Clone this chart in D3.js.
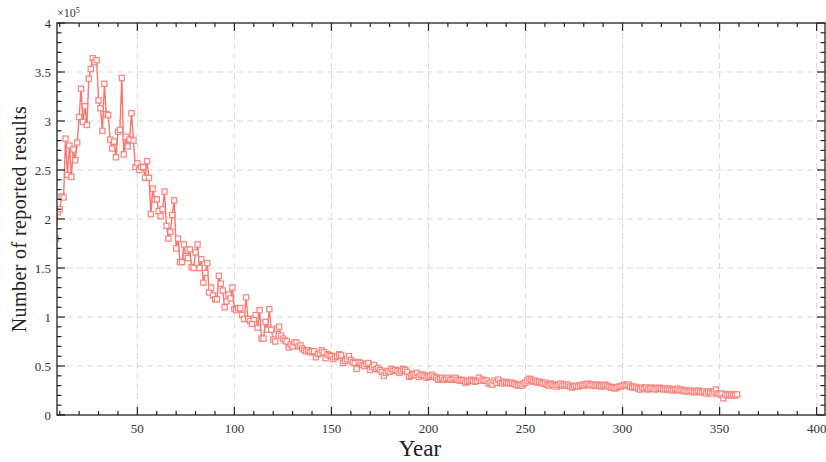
<!DOCTYPE html>
<html lang="en">
<head>
<meta charset="UTF-8">
<title>Number of reported results by year</title>
<style>
    body { background: white; margin: 0; padding: 0; }
    .tick-label { font: 13px "Liberation Serif", serif; fill: #333; }
    .grid line { stroke: #d9d9d9; stroke-dasharray: 6, 4; stroke-width: 1; }
    .frame { fill: none; stroke: #222; stroke-width: 1.3; }
</style>
</head>
<body>
<script src="https://cdn.jsdelivr.net/npm/d3@7"></script>
<script>
    // years run one by one from firstYear
    var firstYear = 8;

    // reported results, in units of 1e5
    var results1 = [1.80, 2.07, 2.10, 2.23, 2.22, 2.82, 2.45, 2.75, 2.43, 2.71, 2.60, 2.78, 3.04, 3.33, 2.99, 3.15, 2.96, 3.43, 3.53, 3.64,
        3.60, 3.62, 3.21, 3.13, 2.90, 3.38, 3.07, 3.06, 2.81, 2.72, 2.79, 2.63, 2.89, 2.91, 3.44, 2.66, 2.84, 2.74, 2.81, 3.08,
        2.80, 2.53, 2.57, 2.50, 2.53, 2.53, 2.42, 2.59, 2.42, 2.05, 2.31, 2.20, 2.20, 2.08, 2.03, 2.10, 2.28, 1.93, 1.80, 1.87,
        2.04, 2.19, 1.70, 1.80, 1.56, 1.56, 1.74, 1.62, 1.60, 1.69, 1.51, 1.50, 1.66, 1.74, 1.50, 1.59, 1.35, 1.45, 1.55, 1.25];
    var results2 = [1.30, 1.22, 1.18, 1.18, 1.42, 1.34, 1.27, 1.10, 1.16, 1.23, 1.19, 1.30, 1.08, 1.07, 1.09, 1.09, 1.02, 0.98, 1.20, 0.98,
        0.96, 0.93, 0.98, 1.02, 0.89, 1.07, 0.78, 0.78, 0.95, 0.87, 1.08, 0.87, 0.77, 0.75, 0.88, 0.90, 0.81, 0.78, 0.76, 0.75,
        0.69, 0.72, 0.70, 0.74, 0.74, 0.70, 0.71, 0.68, 0.66, 0.65, 0.66, 0.64, 0.65, 0.65, 0.59, 0.62, 0.63, 0.66, 0.64, 0.58,
        0.62, 0.61, 0.60, 0.57, 0.59, 0.60, 0.62, 0.61, 0.53, 0.55, 0.57, 0.60, 0.56, 0.54, 0.53, 0.47, 0.54, 0.53, 0.51, 0.50];
    var results3 = [0.52, 0.53, 0.46, 0.49, 0.51, 0.47, 0.48, 0.46, 0.44, 0.40, 0.43, 0.45, 0.44, 0.47, 0.45, 0.46, 0.45, 0.43, 0.45, 0.47,
        0.46, 0.44, 0.39, 0.40, 0.42, 0.41, 0.43, 0.39, 0.41, 0.41, 0.40, 0.38, 0.39, 0.40, 0.41, 0.39, 0.38, 0.36, 0.37, 0.38,
        0.36, 0.37, 0.38, 0.36, 0.36, 0.37, 0.38, 0.36, 0.35, 0.36, 0.35, 0.33, 0.34, 0.35, 0.36, 0.35, 0.34, 0.35, 0.38, 0.35,
        0.36, 0.35, 0.35, 0.32, 0.33, 0.31, 0.35, 0.33, 0.36, 0.33, 0.32, 0.34, 0.33, 0.33, 0.32, 0.33, 0.32, 0.31, 0.30, 0.31,
        0.30, 0.32, 0.33, 0.35, 0.37, 0.36, 0.34, 0.35, 0.33, 0.34, 0.33, 0.32, 0.33, 0.31, 0.30, 0.32, 0.31, 0.30, 0.29, 0.31];
    var results4 = [0.32, 0.30, 0.31, 0.30, 0.31, 0.29, 0.28, 0.29, 0.30, 0.29, 0.30, 0.31, 0.30, 0.31, 0.32, 0.31, 0.30, 0.31, 0.30, 0.31,
        0.30, 0.29, 0.30, 0.31, 0.30, 0.29, 0.28, 0.28, 0.27, 0.28, 0.29, 0.29, 0.30, 0.31, 0.30, 0.31, 0.29, 0.28, 0.29, 0.28,
        0.27, 0.26, 0.28, 0.27, 0.28, 0.26, 0.27, 0.28, 0.27, 0.26, 0.27, 0.28, 0.27, 0.26, 0.27, 0.26, 0.27, 0.26, 0.25, 0.26,
        0.27, 0.25, 0.26, 0.25, 0.24, 0.25, 0.24, 0.25, 0.24, 0.23, 0.24, 0.25, 0.24, 0.23, 0.24, 0.22, 0.24, 0.23, 0.22, 0.24,
        0.26, 0.22, 0.21, 0.22, 0.17, 0.21, 0.20, 0.21, 0.20, 0.21, 0.20, 0.21];

    var xTicks = [50, 100, 150, 200, 250, 300, 350, 400];
    var yTicks = [0, 0.5, 1, 1.5, 2, 2.5, 3, 3.5, 4];
    var yTickLabels = ['0', '0.5', '1', '1.5', '2', '2.5', '3', '3.5', '4'];

    var results = results1.concat(results2, results3, results4);
    var data = results.map(function(v, i) {
        return { year: firstYear + i, value: v };
    });

    var width = 826, height = 462;
    var pLeft = 57, pRight = 825, pTop = 23, pBottom = 415;

    var x = d3.scaleLinear().domain([8.6, 404.3]).range([pLeft, pRight]);
    var y = d3.scaleLinear().domain([0, 4]).range([pBottom, pTop]);

    var svg = d3.select('body').append('svg')
        .attr('width', width)
        .attr('height', height);

    svg.append('clipPath').attr('id', 'plot-clip')
        .append('rect')
        .attr('x', pLeft).attr('y', pTop)
        .attr('width', pRight - pLeft).attr('height', pBottom - pTop);

    // dashed grid at major ticks
    var grid = svg.append('g').attr('class', 'grid');
    grid.selectAll('line.gx')
        .data(xTicks.filter(function(t) { return t < 404; }))
        .enter().append('line')
        .attr('x1', function(d) { return x(d); })
        .attr('x2', function(d) { return x(d); })
        .attr('y1', pTop).attr('y2', pBottom);
    grid.selectAll('line.gy')
        .data(yTicks.filter(function(t) { return t > 0 && t < 4; }))
        .enter().append('line')
        .attr('y1', function(d) { return y(d); })
        .attr('y2', function(d) { return y(d); })
        .attr('x1', pLeft).attr('x2', pRight);

    // series
    var plot = svg.append('g').attr('clip-path', 'url(#plot-clip)');
    var line = d3.line()
        .x(function(d) { return x(d.year); })
        .y(function(d) { return y(d.value); });

    plot.append('path')
        .datum(data)
        .attr('d', line)
        .attr('fill', 'none')
        .attr('stroke', '#f8766d')
        .attr('stroke-width', 1.4);

    plot.selectAll('rect.pt')
        .data(data)
        .enter().append('rect')
        .attr('class', 'pt')
        .attr('x', function(d) { return x(d.year) - 2.6; })
        .attr('y', function(d) { return y(d.value) - 2.6; })
        .attr('width', 5.2)
        .attr('height', 5.2)
        .attr('fill', '#fff')
        .attr('stroke', '#f8766d')
        .attr('stroke-opacity', 0.85)
        .attr('stroke-width', 1.3);

    // ticks on all four sides, pointing inward
    var minorX = d3.range(10, 405, 10);
    var minorY = d3.range(0, 4.01, 0.1);
    var ticks = svg.append('g').attr('stroke', '#222').attr('stroke-width', 1.2);

    function isMajorX(t) { return t % 50 === 0; }
    function isMajorY(t) { return Math.abs(t * 2 - Math.round(t * 2)) < 1e-6; }

    ticks.selectAll('line.xb').data(minorX).enter().append('line')
        .attr('x1', function(d) { return x(d); }).attr('x2', function(d) { return x(d); })
        .attr('y1', pBottom).attr('y2', function(d) { return pBottom - (isMajorX(d) ? 8 : 4); });
    ticks.selectAll('line.xt').data(minorX).enter().append('line')
        .attr('x1', function(d) { return x(d); }).attr('x2', function(d) { return x(d); })
        .attr('y1', pTop).attr('y2', function(d) { return pTop + (isMajorX(d) ? 8 : 4); });
    ticks.selectAll('line.yl').data(minorY).enter().append('line')
        .attr('y1', function(d) { return y(d); }).attr('y2', function(d) { return y(d); })
        .attr('x1', pLeft).attr('x2', function(d) { return pLeft + (isMajorY(d) ? 8 : 4.5); });
    ticks.selectAll('line.yr').data(minorY).enter().append('line')
        .attr('y1', function(d) { return y(d); }).attr('y2', function(d) { return y(d); })
        .attr('x1', pRight).attr('x2', function(d) { return pRight - (isMajorY(d) ? 8 : 4.5); });

    svg.append('rect').attr('class', 'frame')
        .attr('x', pLeft).attr('y', pTop)
        .attr('width', pRight - pLeft).attr('height', pBottom - pTop);

    // tick labels
    svg.selectAll('text.xl').data(xTicks).enter().append('text')
        .attr('class', 'tick-label')
        .attr('x', function(d) { return x(d); })
        .attr('y', pBottom + 18)
        .attr('text-anchor', 'middle')
        .text(function(d) { return d; });

    svg.selectAll('text.yl').data(yTicks).enter().append('text')
        .attr('class', 'tick-label')
        .attr('x', pLeft - 6)
        .attr('y', function(d) { return y(d) + 4.5; })
        .attr('text-anchor', 'end')
        .text(function(d, i) { return yTickLabels[i]; });

    // exponent
    var expo = svg.append('text')
        .attr('class', 'tick-label')
        .attr('x', pLeft)
        .attr('y', 17)
        .style('font-size', '12px');
    expo.append('tspan').text('\u00d710');
    expo.append('tspan').attr('dy', -4).style('font-size', '8px').text('5');

    // axis titles
    svg.append('text')
        .attr('x', 420)
        .attr('y', 456)
        .attr('text-anchor', 'middle')
        .style('font', '23px "Liberation Serif", serif')
        .style('fill', '#222')
        .text('Year');

    svg.append('text')
        .attr('transform', 'translate(26,' + ((pTop + pBottom) / 2) + ') rotate(-90)')
        .attr('text-anchor', 'middle')
        .style('font', '20px "Liberation Serif", serif')
        .style('letter-spacing', '0.4px')
        .style('fill', '#222')
        .text('Number of reported results');
</script>
</body>
</html>
